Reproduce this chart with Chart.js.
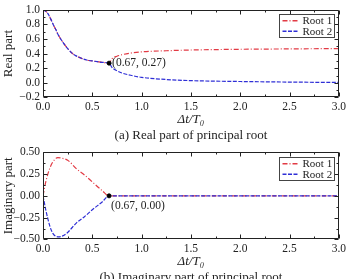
<!DOCTYPE html>
<html>
<head>
<meta charset="utf-8">
<script src="https://cdn.jsdelivr.net/npm/chart.js@4/dist/chart.umd.min.js"></script>
<style>
    html, body { margin: 0; padding: 0; background: #fff; overflow: hidden; }
    body { width: 349px; height: 279px; position: relative; }
    .panel { position: absolute; left: 0; width: 349px; }
    #realPanel { top: 0; height: 143px; }
    #imagPanel { top: 140px; height: 145px; }
</style>
</head>
<body>
<div class="panel" id="realPanel"><canvas id="realChart"></canvas></div>
<div class="panel" id="imagPanel"><canvas id="imagChart"></canvas></div>
<script>
// Real part of principal root
const realX     = [0, 0.02, 0.05, 0.08, 0.1, 0.13, 0.15, 0.2, 0.25, 0.3, 0.35, 0.4, 0.45, 0.5, 0.55, 0.6, 0.67,
                   0.7, 0.75, 0.8, 0.9, 1.0, 1.25, 1.5, 2.0, 2.5, 3.0];
const realRoot1 = [1.0, 0.99, 0.95, 0.87, 0.81, 0.73, 0.67, 0.56, 0.47, 0.40, 0.36, 0.33, 0.31, 0.30, 0.29, 0.28, 0.27,
                   0.33, 0.365, 0.385, 0.41, 0.425, 0.44, 0.45, 0.46, 0.465, 0.47];
const realRoot2 = [1.0, 0.99, 0.95, 0.87, 0.81, 0.73, 0.67, 0.56, 0.47, 0.40, 0.36, 0.33, 0.31, 0.30, 0.29, 0.28, 0.27,
                   0.21, 0.165, 0.135, 0.10, 0.075, 0.045, 0.03, 0.018, 0.01, 0.005];

// Imaginary part of principal root
const imagX     = [0, 0.03, 0.07, 0.1, 0.15, 0.2, 0.25, 0.34, 0.42, 0.5, 0.6, 0.67, 1.0, 1.5, 2.0, 2.5, 3.0];
const imagRoot1 = [0, 0.17, 0.32, 0.39, 0.44, 0.43, 0.41, 0.31, 0.24, 0.16, 0.06, 0, 0, 0, 0, 0, 0];
const imagRoot2 = [0, -0.17, -0.35, -0.43, -0.47, -0.46, -0.42, -0.31, -0.24, -0.16, -0.07, 0, 0, 0, 0, 0, 0];

// Branch point marked on both panels
const branchX    = [0.67];
const branchReal = [0.27];
const branchImag = [0.00];

const seriesLabels = ['Root 1', 'Root 2'];
const captions = ['(a) Real part of principal root', '(b) Imaginary part of principal root'];

const SERIF = '"Liberation Serif", "DejaVu Serif", serif';
const INK = '#222';
Chart.defaults.font.family = SERIF;
Chart.defaults.color = INK;

function fmt(v, d) {
    if (Math.abs(v) < 1e-9) v = 0;
    return v.toFixed(d).replace('-', '\u2212');
}

function toPoints(xs, ys) {
    return xs.map((x, i) => ({ x: x, y: ys[i] }));
}

// major ticks plus one minor tick between each pair
function tickMarks(scale) {
    const vals = scale.ticks.map(t => t.value);
    const out = vals.map(v => ({ v: v, len: 4 }));
    for (let i = 0; i < vals.length - 1; i++) {
        out.push({ v: (vals[i] + vals[i + 1]) / 2, len: 2 });
    }
    return out;
}

// Frame, inward ticks, branch point label and boxed legend
const decor = {
    id: 'decor',
    afterDraw(chart, args, opts) {
        const { ctx, chartArea: a, scales } = chart;
        const L = Math.round(a.left) + 0.5, R = Math.round(a.right) - 0.5;
        const T = Math.round(a.top) + 0.5, B = Math.round(a.bottom) - 0.5;
        ctx.save();
        ctx.setLineDash([]);
        ctx.strokeStyle = INK;
        ctx.lineWidth = 1;
        ctx.beginPath();
        tickMarks(scales.x).forEach(m => {
            const p = Math.round(scales.x.getPixelForValue(m.v)) + 0.5;
            ctx.moveTo(p, B); ctx.lineTo(p, B - m.len);
            ctx.moveTo(p, T); ctx.lineTo(p, T + m.len);
        });
        tickMarks(scales.y).forEach(m => {
            const p = Math.round(scales.y.getPixelForValue(m.v)) + 0.5;
            ctx.moveTo(L, p); ctx.lineTo(L + m.len, p);
            ctx.moveTo(R, p); ctx.lineTo(R - m.len, p);
        });
        ctx.rect(L, T, R - L, B - T);
        ctx.stroke();

        // label of the branch point
        const idx = chart.data.datasets.findIndex(d => d.isBranch);
        const meta = chart.getDatasetMeta(idx);
        const raw = chart.data.datasets[idx].data;
        ctx.font = '11.5px ' + SERIF;
        ctx.fillStyle = INK;
        ctx.textBaseline = 'middle';
        meta.data.forEach((el, i) => {
            const text = '(' + raw[i].x.toFixed(2) + ', ' + raw[i].y.toFixed(2) + ')';
            ctx.fillText(text, el.x + opts.dx, el.y + opts.dy);
        });

        // legend box
        const items = chart.data.datasets.filter(d => d.label);
        const w = 55, rowH = 10.5, h = items.length * rowH + 2;
        const x0 = Math.round(a.right - 5 - w) + 0.5, y0 = Math.round(a.top + 4.5) + 0.5;
        ctx.fillStyle = '#fff';
        ctx.fillRect(x0, y0, w, h);
        ctx.strokeStyle = '#444';
        ctx.strokeRect(x0, y0, w, h);
        ctx.font = '11px ' + SERIF;
        items.forEach((d, i) => {
            const cy = y0 + 1 + rowH * (i + 0.5);
            ctx.strokeStyle = d.borderColor;
            ctx.lineWidth = 1.4;
            ctx.setLineDash(d.borderDash);
            ctx.beginPath();
            ctx.moveTo(x0 + 3, cy);
            ctx.lineTo(x0 + 19, cy);
            ctx.stroke();
            ctx.setLineDash([]);
            ctx.fillStyle = INK;
            ctx.fillText(d.label, x0 + 23, cy + 0.5);
        });
        ctx.restore();
    }
};

function makeChart(canvasId, xs, r1, r2, branchY, yAxis, caption, padTop, labelOffset) {
    const ctx = document.getElementById(canvasId).getContext('2d');
    return new Chart(ctx, {
        type: 'line',
        data: {
            datasets: [
                {
                    label: seriesLabels[0],
                    data: toPoints(xs, r1),
                    borderColor: '#e23a44',
                    borderWidth: 1.2,
                    borderDash: [5, 2, 1, 2],
                    cubicInterpolationMode: 'monotone',
                    pointRadius: 0,
                    order: 2
                },
                {
                    label: seriesLabels[1],
                    data: toPoints(xs, r2),
                    borderColor: '#2e2ed6',
                    borderWidth: 1.2,
                    borderDash: [4, 1.5],
                    cubicInterpolationMode: 'monotone',
                    pointRadius: 0,
                    order: 1
                },
                {
                    isBranch: true,
                    data: toPoints(branchX, branchY),
                    showLine: false,
                    pointRadius: 2,
                    pointBackgroundColor: '#000',
                    pointBorderColor: '#000',
                    order: 0
                }
            ]
        },
        options: {
            animation: false,
            responsive: true,
            maintainAspectRatio: false,
            layout: { padding: { top: padTop, right: 7.8, left: 0, bottom: 0 } },
            plugins: {
                legend: { display: false },
                tooltip: { enabled: false },
                title: {
                    display: true,
                    position: 'bottom',
                    fullSize: false,
                    text: caption,
                    color: INK,
                    font: { size: 13, weight: 'normal' },
                    padding: { top: 0, bottom: 0 }
                },
                decor: labelOffset
            },
            scales: {
                x: {
                    type: 'linear',
                    min: 0,
                    max: 3,
                    afterFit: (s) => { s.height = 30; },
                    grid: { display: false, drawTicks: false },
                    border: { display: false },
                    ticks: {
                        stepSize: 0.5,
                        padding: 3,
                        autoSkip: false,
                        maxRotation: 0,
                        font: { size: 11.5 },
                        callback: (v) => fmt(v, 1)
                    },
                    title: {
                        display: true,
                        text: '\u0394t/T\u2080',
                        font: { size: 13, style: 'italic' },
                        padding: { top: 0, bottom: 0 }
                    }
                },
                y: {
                    min: yAxis.min,
                    max: yAxis.max,
                    afterFit: (s) => { s.width = 43; },
                    grid: { display: false, drawTicks: false },
                    border: { display: false },
                    ticks: {
                        stepSize: yAxis.step,
                        padding: 3,
                        autoSkip: false,
                        font: { size: 11.5 },
                        callback: (v) => fmt(v, yAxis.digits)
                    },
                    title: {
                        display: true,
                        text: yAxis.title,
                        font: { size: 13 },
                        padding: { top: 1, bottom: 0 }
                    }
                }
            }
        },
        plugins: [decor]
    });
}

makeChart('realChart', realX, realRoot1, realRoot2, branchReal,
    { min: -0.2, max: 1.0, step: 0.2, digits: 1, title: 'Real part' },
    captions[0], 9.5, { dx: 3, dy: 0 });

makeChart('imagChart', imagX, imagRoot1, imagRoot2, branchImag,
    { min: -0.5, max: 0.5, step: 0.25, digits: 2, title: 'Imaginary part' },
    captions[1], 12.3, { dx: 2, dy: 10 });
</script>
</body>
</html>
